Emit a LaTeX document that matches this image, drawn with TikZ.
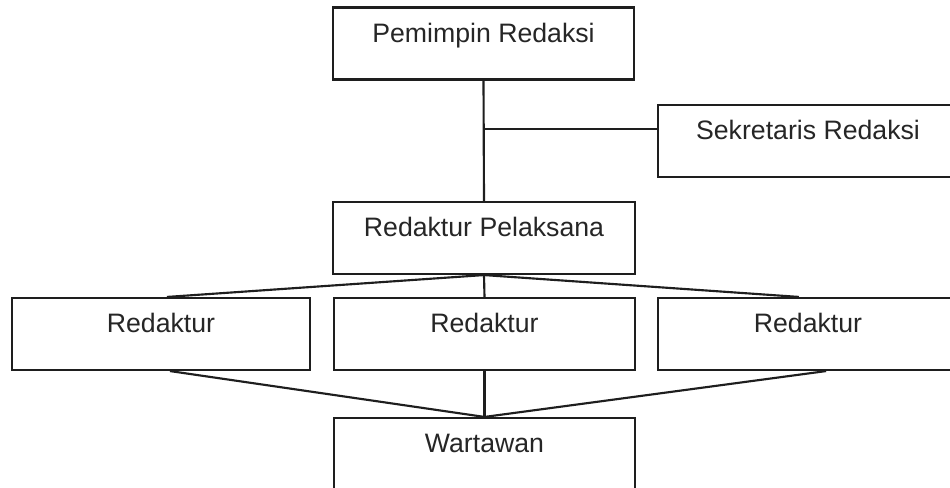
\documentclass[tikz,border=0pt]{standalone}
\usepackage{fontspec}
\setmainfont{Liberation Sans}
\usetikzlibrary{calc}
\definecolor{ink}{HTML}{1E1E1E}
\definecolor{txt}{HTML}{262626}
\begin{document}
\begin{tikzpicture}[x=0.75pt,y=-0.75pt,
  box/.style={draw=ink, line width=1.6pt, rectangle, inner sep=0pt,
    minimum width=225pt, text height=26pt, text depth=28pt,
    text=txt, font=\fontsize{20pt}{24pt}\selectfont},
  conn/.style={draw=ink, line width=1.6pt}]
\useasboundingbox (0,0) rectangle (950,488);
\clip (0,0) rectangle (950,488);
\fill[white] (0,0) rectangle (950,488);

\node[box, minimum width=225.75pt] (pr) at (483.5,43.5) {Pemimpin Redaksi};
\node[box] (sr) at (808,141) {Sekretaris Redaksi};
\node[box, minimum width=226.5pt] (rp) at (484,238) {Redaktur Pelaksana};
\node[box, minimum width=223.5pt] (r1) at (161,334) {Redaktur};
\node[box, minimum width=225.75pt] (r2) at (484.5,334) {Redaktur};
\node[box] (r3) at (808,334) {Redaktur};
\node[box, minimum width=225.75pt] (w) at (484.5,454) {Wartawan};

\coordinate (sj) at ($(sr.north west)!0.333!(sr.south west)$);
\coordinate (r1t) at ($(r1.north west)!0.52!(r1.north east)$);
\coordinate (r3t) at ($(r3.north west)!0.47!(r3.north east)$);
\coordinate (r1b) at ($(r1.south west)!0.53!(r1.south east)$);
\coordinate (r3b) at ($(r3.south west)!0.56!(r3.south east)$);

\draw[conn] (pr.south) -- (rp.north);
\draw[conn] (pr.south |- sj) -- (sj);
\draw[conn] (rp.south) -- (r1t);
\draw[conn] (rp.south) -- (r2.north);
\draw[conn] (rp.south) -- (r3t);
\draw[conn] (r1b) -- (w.north);
\draw[conn] (r2.south) -- (w.north);
\draw[conn] (r3b) -- (w.north);
\end{tikzpicture}
\end{document}
